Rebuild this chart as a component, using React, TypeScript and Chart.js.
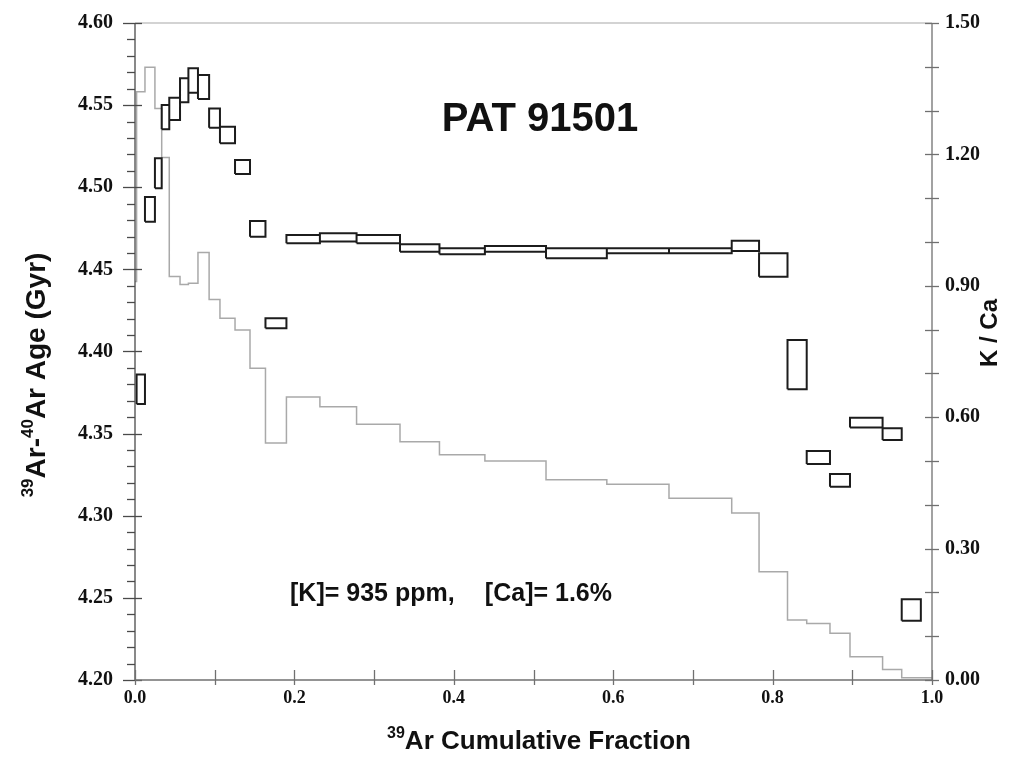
import React, { useEffect, useRef } from 'react';
import { Chart, registerables } from 'chart.js';

Chart.register(...registerables);

// Step boundaries (39Ar cumulative fraction)
const cumFraction = [0.002, 0.0125, 0.025, 0.0335, 0.043, 0.0565, 0.067, 0.079, 0.093, 0.1066, 0.1255,
  0.1443, 0.1637, 0.19, 0.232, 0.278, 0.3325, 0.382, 0.439, 0.5157, 0.592, 0.67, 0.7487, 0.783,
  0.8187, 0.8428, 0.872, 0.8971, 0.938, 0.962, 0.986, 1.0];

// Age error boxes (Gyr), lower / upper bound per step
const ageLow = [4.368, 4.479, 4.4994, 4.5353, 4.5409, 4.5517, 4.5576, 4.5537, 4.5363, 4.5268, 4.508,
  4.4699, 4.4141, 4.4659, 4.4669, 4.4659, 4.4608, 4.4592, 4.4608, 4.4567, 4.4598, 4.4598, 4.4612,
  4.4455, 4.377, 4.3315, 4.3177, 4.3538, 4.3461, 4.2361, null];
const ageHigh = [4.386, 4.494, 4.5176, 4.5501, 4.5545, 4.5663, 4.5724, 4.5683, 4.548, 4.5369, 4.5166,
  4.4795, 4.4202, 4.4709, 4.472, 4.4709, 4.4653, 4.4628, 4.4642, 4.4628, 4.4628, 4.4628, 4.4675,
  4.4598, 4.407, 4.3394, 4.3254, 4.3597, 4.3532, 4.2491, null];

// K/Ca ratio per step
const kcaStart = 0.91;
const kca = [1.343, 1.399, 1.305, 1.193, 0.921, 0.903, 0.906, 0.976, 0.869, 0.826, 0.799, 0.712,
  0.541, 0.646, 0.624, 0.584, 0.544, 0.514, 0.5, 0.457, 0.447, 0.415, 0.381, 0.247, 0.137, 0.129,
  0.107, 0.053, 0.024, 0.005, 0.005];

const ageMin = 4.2, ageMax = 4.6, ageStep = 0.05;
const kcaMin = 0, kcaMax = 1.5, kcaStep = 0.3;
const fracMin = 0, fracMax = 1, fracStep = 0.2;

const titleText = 'PAT 91501';
const noteLeft = '[K]= 935 ppm,';
const noteRight = '[Ca]= 1.6%';

const SANS = '"Liberation Sans", Arial, Helvetica, sans-serif';
const SERIF = '"Liberation Serif", "Times New Roman", serif';

type Part = { t: string; size: number; dy: number };

function richWidth(ctx: CanvasRenderingContext2D, parts: Part[]) {
  let w = 0;
  for (const p of parts) {
    ctx.font = `bold ${p.size}px ${SANS}`;
    w += ctx.measureText(p.t).width;
  }
  return w;
}

function drawRich(ctx: CanvasRenderingContext2D, parts: Part[], cx: number, baseline: number) {
  const w = richWidth(ctx, parts);
  let x = cx - w / 2;
  ctx.textAlign = 'left';
  ctx.textBaseline = 'alphabetic';
  for (const p of parts) {
    ctx.font = `bold ${p.size}px ${SANS}`;
    ctx.fillText(p.t, x, baseline + p.dy);
    x += ctx.measureText(p.t).width;
  }
}

const decorPlugin = {
  id: 'decor',
  afterDatasetsDraw(chart: any) {
    const { ctx, chartArea: a, scales } = chart;
    const xs = scales.x, ys = scales.y, y2 = scales.y2;
    const seg = (x1: number, y1: number, x2: number, y2p: number) => {
      ctx.beginPath();
      ctx.moveTo(x1, y1);
      ctx.lineTo(x2, y2p);
      ctx.stroke();
    };
    ctx.save();
    ctx.lineWidth = 1.3;
    // top frame
    ctx.strokeStyle = '#c4c4c4';
    seg(a.left, a.top, a.right, a.top);
    // left axis
    ctx.strokeStyle = '#4a4a4a';
    seg(a.left, a.top, a.left, a.bottom);
    const nMinor = Math.round((ageMax - ageMin) / 0.01);
    for (let i = 0; i <= nMinor; i++) {
      const py = Math.round(ys.getPixelForValue(ageMin + i * 0.01)) + 0.5;
      const major = i % 5 === 0;
      seg(a.left - (major ? 12 : 8), py, a.left + (major ? 7 : 0), py);
    }
    // right axis
    ctx.strokeStyle = '#707070';
    seg(a.right, a.top, a.right, a.bottom);
    const nR = Math.round((kcaMax - kcaMin) / 0.1);
    for (let i = 0; i <= nR; i++) {
      const py = Math.round(y2.getPixelForValue(kcaMin + i * 0.1)) + 0.5;
      seg(a.right - 7, py, a.right + 7, py);
    }
    // bottom axis
    seg(a.left, a.bottom, a.right, a.bottom);
    for (let i = 0; i <= 10; i++) {
      const px = Math.round(xs.getPixelForValue(fracMin + i * 0.1)) + 0.5;
      seg(px, a.bottom - 10, px, a.bottom + 5);
    }
    ctx.restore();
  },
  afterDraw(chart: any) {
    const { ctx } = chart;
    ctx.save();
    ctx.fillStyle = '#111';
    // title inside plot
    ctx.font = `bold 40px ${SANS}`;
    ctx.textAlign = 'center';
    ctx.textBaseline = 'alphabetic';
    ctx.fillText(titleText, 540, 131);
    // composition note
    ctx.font = `bold 25px ${SANS}`;
    ctx.textAlign = 'left';
    ctx.fillText(noteLeft, 290, 601);
    ctx.textAlign = 'right';
    ctx.fillText(noteRight, 612, 601);
    // bottom axis title
    drawRich(ctx, [
      { t: '39', size: 16, dy: -11 },
      { t: 'Ar Cumulative Fraction', size: 26, dy: 0 },
    ], 539, 749);
    // left axis title
    ctx.save();
    ctx.translate(45, 375);
    ctx.rotate(-Math.PI / 2);
    drawRich(ctx, [
      { t: '39', size: 17, dy: -12 },
      { t: 'Ar-', size: 28, dy: 0 },
      { t: '40', size: 17, dy: -12 },
      { t: 'Ar Age (Gyr)', size: 28, dy: 0 },
    ], 0, 0);
    ctx.restore();
    // right axis title
    ctx.save();
    ctx.translate(997, 333);
    ctx.rotate(-Math.PI / 2);
    drawRich(ctx, [{ t: 'K / Ca', size: 24, dy: 0 }], 0, 0);
    ctx.restore();
    ctx.restore();
  },
};

export default function App() {
  const ref = useRef<HTMLCanvasElement | null>(null);

  useEffect(() => {
    if (!ref.current) return;
    const boxPts: any[] = [];
    for (let i = 0; i < ageLow.length; i++) {
      const lo = ageLow[i], hi = ageHigh[i];
      if (lo == null || hi == null) continue;
      const x0 = cumFraction[i], x1 = cumFraction[i + 1];
      boxPts.push({ x: x0, y: lo }, { x: x1, y: lo }, { x: x1, y: hi }, { x: x0, y: hi }, { x: x0, y: lo });
      boxPts.push({ x: x0, y: null });
    }
    const kPts: any[] = [{ x: fracMin, y: kcaStart }, { x: cumFraction[0], y: kcaStart }];
    for (let i = 0; i < kca.length; i++) {
      kPts.push({ x: cumFraction[i], y: kca[i] }, { x: cumFraction[i + 1], y: kca[i] });
    }

    const vFit = (w: number) => (s: any) => {
      s.width = w;
      s.paddingTop = 0;
      s.paddingBottom = 0;
    };

    const tickFont = { family: SERIF, weight: 'bold' as const, size: 20 };
    const chart = new Chart(ref.current, {
      type: 'line',
      data: {
        datasets: [
          {
            label: 'Age',
            data: boxPts,
            yAxisID: 'y',
            borderColor: '#1c1c1c',
            borderWidth: 2,
            pointRadius: 0,
            fill: false,
            spanGaps: false,
            tension: 0,
            order: 0,
          },
          {
            label: 'K/Ca',
            data: kPts,
            yAxisID: 'y2',
            borderColor: '#a9a9a9',
            borderWidth: 1.5,
            pointRadius: 0,
            fill: false,
            tension: 0,
            order: 1,
          },
        ],
      },
      options: {
        responsive: false,
        animation: false,
        events: [],
        layout: { padding: { top: 23, left: 0, right: 0, bottom: 0 } },
        plugins: { legend: { display: false }, tooltip: { enabled: false } },
        scales: {
          x: {
            type: 'linear',
            position: 'bottom',
            min: fracMin,
            max: fracMax,
            grid: { display: false, drawTicks: false },
            border: { display: false },
            ticks: {
              stepSize: fracStep,
              padding: 8,
              color: '#111',
              font: { ...tickFont, size: 18 },
              maxRotation: 0,
              callback: (v: any) => Number(v).toFixed(1),
            },
            afterFit: (s: any) => { s.height = 100; s.paddingLeft = 0; s.paddingRight = 0; },
          },
          y: {
            type: 'linear',
            position: 'left',
            min: ageMin,
            max: ageMax,
            grid: { display: false, drawTicks: false },
            border: { display: false },
            ticks: {
              stepSize: ageStep,
              padding: 22,
              color: '#111',
              font: tickFont,
              callback: (v: any) => Number(v).toFixed(2),
            },
            afterFit: vFit(135),
          },
          y2: {
            type: 'linear',
            position: 'right',
            min: kcaMin,
            max: kcaMax,
            grid: { display: false, drawTicks: false },
            border: { display: false },
            ticks: {
              stepSize: kcaStep,
              padding: 13,
              color: '#111',
              font: tickFont,
              callback: (v: any) => Number(v).toFixed(2),
            },
            afterFit: vFit(81),
          },
        },
      },
      plugins: [decorPlugin],
    });
    return () => chart.destroy();
  }, []);

  return (
    <div style={{ position: 'absolute', left: 0, top: 0, width: 1013, height: 780, background: '#fff' }}>
      <canvas ref={ref} width={1013} height={780} style={{ display: 'block' }} />
    </div>
  );
}
